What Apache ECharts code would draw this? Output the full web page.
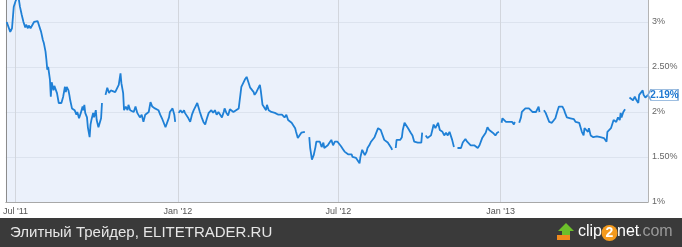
<!DOCTYPE html>
<html><head><meta charset="utf-8">
<script src="https://cdn.jsdelivr.net/npm/echarts@6/dist/echarts.min.js"></script>
<style>html,body{margin:0;padding:0;background:#fff}#c{width:682px;height:247px}</style>
</head><body><div id="c"></div>
<script>
const dates = [
'2011-06-21','2011-06-23','2011-06-25','2011-06-27','2011-06-29','2011-07-01','2011-07-04','2011-07-06','2011-07-07','2011-07-08',
'2011-07-10','2011-07-12','2011-07-13','2011-07-15','2011-07-16','2011-07-18','2011-07-20','2011-07-22','2011-07-24','2011-07-26',
'2011-07-28','2011-07-30','2011-08-01','2011-08-02','2011-08-04','2011-08-05','2011-08-06','2011-08-07','2011-08-09','2011-08-10',
'2011-08-11','2011-08-13','2011-08-14','2011-08-16','2011-08-17','2011-08-19','2011-08-20','2011-08-22','2011-08-24','2011-08-26',
'2011-08-27','2011-08-28','2011-08-30','2011-08-31','2011-09-01','2011-09-03','2011-09-04','2011-09-06','2011-09-08','2011-09-09',
'2011-09-11','2011-09-13','2011-09-15','2011-09-16','2011-09-17','2011-09-18','2011-09-20','2011-09-21','2011-09-23','2011-09-24',
'2011-09-25','2011-09-27','2011-09-28','2011-09-30','2011-10-01','2011-10-03','2011-10-04','2011-10-06','2011-10-07','2011-10-09',
'2011-10-11','2011-10-13','2011-10-15','2011-10-17','2011-10-19','2011-10-22','2011-10-24','2011-10-26','2011-10-28','2011-10-29',
'2011-10-31','2011-11-01','2011-11-03','2011-11-05','2011-11-06','2011-11-08','2011-11-10','2011-11-12','2011-11-14','2011-11-16',
'2011-11-18','2011-11-19','2011-11-21','2011-11-23','2011-11-25','2011-11-27','2011-11-29','2011-12-01','2011-12-03','2011-12-05',
'2011-12-06','2011-12-08','2011-12-10','2011-12-12','2011-12-14','2011-12-16','2011-12-18','2011-12-20','2011-12-22','2011-12-23',
'2011-12-26','2011-12-28','2011-12-29','2011-12-31',
'2012-01-02','2012-01-04','2012-01-06','2012-01-08','2012-01-09','2012-01-11','2012-01-13','2012-01-15','2012-01-17','2012-01-19',
'2012-01-21','2012-01-23','2012-01-24','2012-01-26','2012-01-28','2012-01-30','2012-02-01','2012-02-03','2012-02-05','2012-02-07',
'2012-02-08','2012-02-10','2012-02-12','2012-02-14','2012-02-16','2012-02-18','2012-02-20','2012-02-22','2012-02-23','2012-02-25',
'2012-02-27','2012-02-29','2012-03-02','2012-03-04','2012-03-06','2012-03-10','2012-03-12','2012-03-13','2012-03-15','2012-03-17',
'2012-03-19','2012-03-21','2012-03-23','2012-03-25','2012-03-27','2012-03-28','2012-03-30','2012-04-01','2012-04-03','2012-04-04',
'2012-04-06','2012-04-08','2012-04-10','2012-04-11','2012-04-13','2012-04-14','2012-04-16','2012-04-18','2012-04-20','2012-04-22',
'2012-04-24','2012-04-26','2012-04-28','2012-04-29','2012-05-01','2012-05-03','2012-05-05','2012-05-07','2012-05-09','2012-05-11',
'2012-05-13','2012-05-14','2012-05-16','2012-05-18','2012-05-20','2012-05-22','2012-05-24','2012-05-26',
'2012-05-29','2012-05-30','2012-06-01','2012-06-03','2012-06-05','2012-06-06','2012-06-08','2012-06-10','2012-06-12','2012-06-14',
'2012-06-15','2012-06-17','2012-06-19','2012-06-21','2012-06-23','2012-06-25','2012-06-27','2012-06-29','2012-06-30','2012-07-02',
'2012-07-04','2012-07-06','2012-07-08','2012-07-10','2012-07-12','2012-07-14','2012-07-16','2012-07-17','2012-07-19','2012-07-21',
'2012-07-23','2012-07-25','2012-07-26','2012-07-28','2012-07-29','2012-07-31','2012-08-02','2012-08-03','2012-08-05','2012-08-07',
'2012-08-09','2012-08-11','2012-08-13','2012-08-15','2012-08-17','2012-08-18','2012-08-20','2012-08-22','2012-08-24','2012-08-26',
'2012-08-28','2012-08-30','2012-08-31','2012-09-02',
'2012-09-04','2012-09-05','2012-09-07','2012-09-09','2012-09-11','2012-09-12','2012-09-14','2012-09-16','2012-09-18','2012-09-19',
'2012-09-21','2012-09-23','2012-09-25','2012-09-27','2012-09-29','2012-10-01','2012-10-03','2012-10-04','2012-10-06',
'2012-10-08','2012-10-10','2012-10-12','2012-10-14','2012-10-16','2012-10-17','2012-10-19','2012-10-21','2012-10-22','2012-10-24',
'2012-10-25','2012-10-27','2012-10-29','2012-10-31','2012-11-02','2012-11-04','2012-11-05','2012-11-07','2012-11-09','2012-11-11',
'2012-11-13','2012-11-15','2012-11-17','2012-11-19','2012-11-21','2012-11-22','2012-11-24','2012-11-26','2012-11-28','2012-11-30',
'2012-12-02','2012-12-04','2012-12-06','2012-12-08','2012-12-09','2012-12-11','2012-12-13','2012-12-15','2012-12-17','2012-12-19',
'2012-12-21','2012-12-23','2012-12-24','2012-12-26','2012-12-28','2012-12-30','2012-12-31',
'2013-01-02','2013-01-03','2013-01-05','2013-01-07','2013-01-09','2013-01-10','2013-01-12','2013-01-14','2013-01-16','2013-01-17',
'2013-01-19',
'2013-01-22','2013-01-24','2013-01-25','2013-01-27','2013-01-29','2013-01-31','2013-02-02','2013-02-04','2013-02-06','2013-02-08',
'2013-02-10','2013-02-11','2013-02-13','2013-02-14','2013-02-16',
'2013-02-19','2013-02-21','2013-02-23','2013-02-25','2013-02-26','2013-02-28','2013-03-02','2013-03-04','2013-03-06','2013-03-08',
'2013-03-10','2013-03-12','2013-03-14','2013-03-15','2013-03-17','2013-03-19','2013-03-21','2013-03-23','2013-03-25','2013-03-27',
'2013-03-29','2013-03-31','2013-04-01','2013-04-03','2013-04-05','2013-04-06','2013-04-08','2013-04-10','2013-04-11','2013-04-13',
'2013-04-15','2013-04-16','2013-04-18','2013-04-20','2013-04-22','2013-04-24','2013-04-26','2013-04-28','2013-04-30','2013-05-01',
'2013-05-02','2013-05-04','2013-05-06','2013-05-08','2013-05-09','2013-05-11','2013-05-12','2013-05-14','2013-05-16','2013-05-17',
'2013-05-18','2013-05-20','2013-05-22','2013-05-24',
'2013-05-27','2013-05-29','2013-05-31','2013-06-02','2013-06-04','2013-06-06','2013-06-07','2013-06-09','2013-06-11','2013-06-12',
'2013-06-14','2013-06-16','2013-06-17'
];
const yields = [
3.00,3.00,2.89,2.93,3.17,3.23,3.30,3.17,3.17,3.08,
3.00,2.94,2.97,2.93,2.96,2.93,2.94,3.00,3.02,3.01,
2.99,2.89,2.80,2.77,2.67,2.58,2.47,2.50,2.36,2.17,
2.33,2.24,2.29,2.27,2.21,2.10,2.08,2.10,2.17,2.28,
2.22,2.28,2.24,2.19,2.13,2.04,2.06,2.02,1.97,2.00,
1.93,1.99,2.06,2.02,2.08,1.99,1.94,1.83,1.72,1.86,
1.91,1.99,1.94,2.02,1.91,1.83,1.82,1.93,2.10,null,
2.19,2.27,2.21,2.24,2.22,2.22,2.24,2.30,2.43,2.32,
2.21,2.02,2.06,2.02,2.08,2.02,2.04,2.00,2.06,1.99,
2.00,1.94,1.97,1.89,1.97,1.99,2.00,2.11,2.06,2.08,
2.04,2.06,2.02,1.97,1.93,1.88,1.83,1.82,1.94,2.00,
2.04,1.97,1.89,null,
1.99,2.02,1.99,2.02,1.99,1.97,1.93,1.89,1.97,2.02,
2.06,2.10,2.08,2.00,1.94,1.89,1.86,1.93,1.99,1.97,
2.02,1.99,2.02,1.97,2.00,1.99,1.94,2.00,2.04,1.99,
1.96,2.03,2.02,2.00,1.99,2.04,2.04,2.28,2.30,2.36,
2.39,2.33,2.27,2.27,2.22,2.19,2.22,2.21,2.30,2.24,
2.08,2.06,2.02,2.08,2.02,2.04,2.00,2.02,1.99,2.00,
1.97,1.99,1.97,1.99,1.94,1.97,1.91,1.93,1.88,1.86,
1.82,1.78,1.71,1.72,1.77,1.76,1.78,null,
1.72,1.60,1.47,1.52,1.61,1.67,1.66,1.67,1.61,1.66,
1.60,1.61,1.63,1.66,1.69,1.63,1.67,1.66,1.67,1.66,
1.62,1.59,1.56,1.54,1.53,1.52,1.53,1.50,1.52,1.49,
1.47,1.43,1.50,1.58,1.56,1.52,1.56,1.60,1.63,1.67,
1.66,1.72,1.71,1.82,1.82,1.80,1.82,1.69,1.67,1.66,
1.63,1.60,1.58,null,
1.60,1.69,1.69,1.69,1.72,1.80,1.88,1.86,1.82,1.80,
1.77,1.74,1.67,1.67,1.66,1.66,1.66,1.77,null,
1.74,1.71,1.71,1.74,1.82,1.86,1.82,1.83,1.88,1.80,
1.82,1.78,1.74,1.77,1.74,1.78,1.77,1.69,1.61,null,
1.60,1.58,1.60,1.66,1.67,1.70,1.67,1.66,1.63,1.61,
1.63,1.61,1.60,1.63,1.63,1.71,1.72,1.77,1.83,1.80,
1.80,1.77,1.78,1.74,1.77,1.78,null,
1.88,1.93,1.91,1.89,1.91,1.89,1.88,1.89,1.86,1.89,
null,
1.88,1.94,2.00,2.02,2.04,2.02,2.04,2.02,2.00,2.02,
2.00,2.02,2.06,2.00,null,
2.02,1.99,1.94,1.89,1.91,1.88,1.89,1.93,2.00,2.06,
2.08,2.06,2.02,1.99,1.94,1.96,1.93,1.91,1.92,1.89,
1.88,1.88,1.86,1.78,1.74,1.82,1.83,1.78,1.82,1.74,
1.74,1.72,1.74,1.73,1.74,1.72,1.72,1.71,1.69,1.67,
1.78,1.80,1.82,1.88,1.91,1.93,1.89,1.94,1.91,1.99,
1.94,2.00,2.03,null,
2.16,2.16,2.13,2.17,2.13,2.10,2.19,2.21,2.24,2.19,
2.16,2.17,2.19
];
const xTickDates = ['2011-07-01','2012-01-01','2012-07-01','2013-01-01'];
const xTickLabels = ["Jul '11","Jan '12","Jul '12","Jan '13"];
const yTickValues = [1, 1.5, 2, 2.5, 3];
const yTickLabels = ['1%','1.50%','2%','2.50%','3%'];
const xRange = ['2011-06-20','2013-06-17'];
const yRange = [1, 3.244];
const footerText = 'Элитный Трейдер, ELITETRADER.RU';
const logoParts = ['clip','2','net','.com'];

function ts(s){const p=s.split('-').map(Number);return Date.UTC(p[0],p[1]-1,p[2]);}
const seriesData = dates.map((d,i)=>[ts(d), yields[i]]);
let lastIdx = yields.length-1; while (yields[lastIdx]==null) lastIdx--;
const xTicks = xTickDates.map(ts);

const chart = echarts.init(document.getElementById('c'), null, {renderer:'canvas'});
const FONT = '"Liberation Sans", Arial, sans-serif';
chart.setOption({
  animation:false,
  backgroundColor:'#ffffff',
  grid:{left:3, right:34, top:0, bottom:45, show:true, backgroundColor:'#ebf1fb', borderWidth:0, containLabel:false},
  xAxis:{
    type:'value', min:ts(xRange[0]), max:ts(xRange[1]),
    axisLine:{show:true, lineStyle:{color:'#a8a8a8', width:1}},
    axisTick:{show:false, customValues:xTicks},
    axisLabel:{customValues:xTicks, margin:5, color:'#555', fontSize:9, fontFamily:FONT,
      formatter:v=>{const i=xTicks.indexOf(v);return i>=0?xTickLabels[i]:'';}},
    splitLine:{show:true, lineStyle:{color:'#d2d6dd', width:1}}
  },
  yAxis:[{
    type:'value', position:'right', min:yRange[0], max:yRange[1], interval:0.5,
    axisLine:{show:true, lineStyle:{color:'#b4b4b4', width:1}},
    axisTick:{show:false, customValues:yTickValues},
    axisLabel:{customValues:yTickValues, margin:4, color:'#666', fontSize:9, fontFamily:FONT,
      formatter:v=>{const i=yTickValues.indexOf(v);return i>=0?yTickLabels[i]:'';}},
    splitLine:{show:true, lineStyle:{color:'#dce3ee', width:1}}
  },{
    type:'value', position:'left', min:yRange[0], max:yRange[1],
    axisLine:{show:true, lineStyle:{color:'#8c8c8c', width:1}},
    axisTick:{show:false}, axisLabel:{show:false}, splitLine:{show:false}
  }],
  series:[{
    type:'line', data:seriesData, showSymbol:false, symbol:'none', connectNulls:false, clip:true,
    lineStyle:{color:'#1f80d6', width:1.8}, yAxisIndex:0,
    markPoint:{
      symbol:'path://M0,5.5 L3,0 L30,0 L30,11 L3,11 Z', symbolSize:[30,11], symbolOffset:[15,0],
      itemStyle:{color:'#ffffff', borderColor:'#7fa9d6', borderWidth:1},
      label:{show:true, position:'inside', offset:[1.5,0.5], color:'#1f78d1', fontWeight:'bold', fontSize:10, fontFamily:FONT,
        formatter:p=>p.value.toFixed(2)+'%'},
      data:[{coord:[ts(dates[lastIdx]), yields[lastIdx]], value:yields[lastIdx]}]
    }
  }],
  graphic:[
    {type:'rect', left:0, top:218, shape:{width:682, height:29}, style:{fill:'#3a3a3a'}, z:10},
    {type:'text', left:10, top:225, style:{text:footerText, fill:'#e6e6e6', font:'15px "Liberation Sans", Arial, sans-serif'}, z:11},
    {type:'polygon', shape:{points:[[566,223],[574,231],[570,231],[570,236],[562,236],[562,231],[558,231]]}, style:{fill:'#6cbf2a'}, z:11},
    {type:'rect', shape:{x:557,y:235,width:13,height:5}, style:{fill:'#f08a1c'}, z:11},
    {type:'text', left:578, top:224, style:{text:logoParts[0], fill:'#ffffff', font:'16px "Liberation Sans", Arial, sans-serif'}, z:11},
    {type:'circle', shape:{cx:609.5, cy:233, r:8}, style:{fill:'#f39a1e'}, z:11},
    {type:'text', x:609.5, y:233, style:{text:logoParts[1], fill:'#ffffff', font:'bold 14px "Liberation Sans", Arial, sans-serif', align:'center', verticalAlign:'middle'}, z:12},
    {type:'text', left:617, top:224, style:{text:logoParts[2], fill:'#ffffff', font:'16px "Liberation Sans", Arial, sans-serif'}, z:11},
    {type:'text', left:638, top:224, style:{text:logoParts[3], fill:'#9a9a9a', font:'16px "Liberation Sans", Arial, sans-serif'}, z:11}
  ]
});
</script></body></html>
